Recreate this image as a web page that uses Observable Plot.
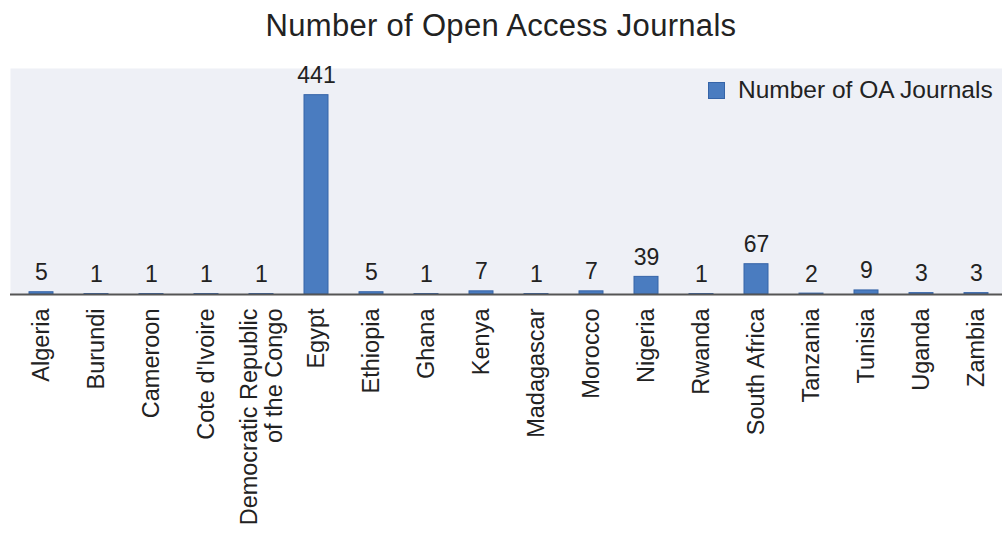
<!DOCTYPE html>
<html>
<head>
<meta charset="utf-8">
<script src="https://cdn.jsdelivr.net/npm/d3@7"></script>
<script src="https://cdn.jsdelivr.net/npm/@observablehq/plot@0.6"></script>
<style>
  html, body { margin: 0; padding: 0; background: #fff; }
  body { width: 1002px; height: 535px; position: relative; overflow: hidden; font-family: "Liberation Sans", Arial, sans-serif; }
  #title { position: absolute; left: 0; width: 1002px; top: 8px; text-align: center; font-size: 31px; color: #222; letter-spacing: 0.3px; }
  #legend { position: absolute; left: 708px; top: 76px; display: flex; align-items: center; font-size: 24.5px; color: #222; }
  #legend .sw { width: 15px; height: 15px; background: #4a7cc0; border: 1px solid #3564a8; margin-right: 13px; }
  #chart { position: absolute; left: 0; top: 0; }
</style>
</head>
<body>
<div id="chart"></div>
<div id="title">Number of Open Access Journals</div>
<div id="legend"><span class="sw"></span><span>Number of OA Journals</span></div>
<script>
const countries = ["Algeria", "Burundi", "Cameroon", "Cote d'Ivoire", "Democratic Republic\nof the Congo", "Egypt", "Ethiopia", "Ghana", "Kenya", "Madagascar", "Morocco", "Nigeria", "Rwanda", "South Africa", "Tanzania", "Tunisia", "Uganda", "Zambia"];
const journals = [5, 1, 1, 1, 1, 441, 5, 1, 7, 1, 7, 39, 1, 67, 2, 9, 3, 3];
const seriesName = "Number of OA Journals";

const data = countries.map((c, i) => ({country: c, value: journals[i]}));

const chart = Plot.plot({
  width: 1002,
  height: 535,
  marginTop: 68,
  marginBottom: 241,
  marginLeft: 10,
  marginRight: 0,
  style: {fontFamily: "Liberation Sans, Arial, sans-serif", color: "#222", background: "transparent"},
  x: {domain: countries, range: [10, 1007], paddingInner: 0.56, paddingOuter: 0.28, label: null},
  y: {domain: [0, 500], label: null},
  marks: [
    Plot.frame({fill: "#eef0f6", stroke: null}),
    Plot.barY(data, {x: "country", y: "value", fill: "#4a7cc0", stroke: "#3564a8", strokeWidth: 1}),
    Plot.text(data, {x: "country", y: "value", text: d => String(d.value), lineAnchor: "bottom", dy: -12, fontSize: 23, fill: "#222"}),
    Plot.ruleY([0], {stroke: "#555", strokeWidth: 2}),
    Plot.axisX({tickSize: 0, tickPadding: 14, tickRotate: -90, fontSize: 23.5, lineHeight: 1.05, fill: "#222", label: null}),
    Plot.axisY({ticks: [], label: null})
  ]
});
document.getElementById("chart").appendChild(chart);
</script>
</body>
</html>
